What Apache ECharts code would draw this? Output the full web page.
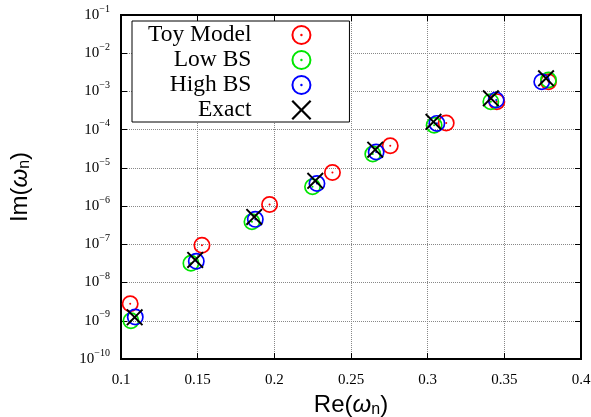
<!DOCTYPE html>
<html>
<head>
<meta charset="UTF-8">
<title>Im vs Re</title>
<script src="https://cdn.jsdelivr.net/npm/echarts@6/dist/echarts.min.js"></script>
<style>
  html, body { margin: 0; padding: 0; background: #fff; }
  #chart { width: 591px; height: 417px; }
</style>
</head>
<body>
<div id="chart"></div>
<script>
// values
var toyRe  = [0.106, 0.1528, 0.1969, 0.2379, 0.2756, 0.3121, 0.3451, 0.3788];
var toyIm  = [2.8e-9, 9.5e-8, 1.1e-6, 7.6e-6, 3.8e-5, 1.5e-4, 5.4e-4, 1.8e-3];
var lowRe  = [0.1065, 0.1456, 0.1854, 0.2249, 0.2642, 0.3042, 0.3412, 0.3788];
var lowIm  = [1.0e-9, 3.2e-8, 3.9e-7, 3.2e-6, 2.3e-5, 1.3e-4, 5.4e-4, 2.0e-3];
var highRe = [0.1093, 0.1491, 0.1876, 0.2278, 0.2664, 0.306, 0.3447, 0.3744];
var highIm = [1.26e-9, 3.6e-8, 4.5e-7, 3.9e-6, 2.6e-5, 1.46e-4, 6.0e-4, 1.8e-3];
var exRe   = [0.1089, 0.1484, 0.1869, 0.2267, 0.2658, 0.3038, 0.3412, 0.3772];
var exIm   = [1.23e-9, 3.9e-8, 5.2e-7, 4.6e-6, 3.0e-5, 1.6e-4, 6.6e-4, 2.2e-3];
var seriesNames = ['Toy Model', 'Low BS', 'High BS', 'Exact'];

function pairs(xs, ys) {
  var out = [];
  for (var i = 0; i < xs.length; i++) out.push([xs[i], ys[i]]);
  return out;
}

// ring with a dot in the middle, and a thick cross
var ringDot = 'path://M0,50 A50,50 0 1,1 100,50 A50,50 0 1,1 0,50 Z' +
  ' M10,50 A40,40 0 1,0 90,50 A40,40 0 1,0 10,50 Z' +
  ' M44,50 A6,6 0 1,1 56,50 A6,6 0 1,1 44,50 Z';
var cross = 'path://M0,8 L8,0 L50,42 L92,0 L100,8 L58,50 L100,92 L92,100 L50,58 L8,100 L0,92 L42,50 Z';

var serif = 'Liberation Serif';
var sans = 'Liberation Sans';
var titleRich = {
  w: { fontFamily: sans, fontSize: 24, fontStyle: 'italic', color: '#000' },
  sub: { fontFamily: sans, fontSize: 16, color: '#000', padding: [10, 0, 0, 0] }
};

var chart = echarts.init(document.getElementById('chart'));
var option = {
  animation: false,
  grid: {
    show: true, borderColor: '#000', borderWidth: 2,
    left: 121, top: 15, right: 10, bottom: 58,
    containLabel: false, outerBoundsMode: 'none'
  },
  legend: {
    orient: 'vertical',
    align: 'right',
    left: 132,
    top: 21,
    padding: [2, 38, 0, 16],
    itemWidth: 90,
    itemHeight: 20,
    itemGap: 1,
    backgroundColor: '#fff',
    borderColor: '#000',
    borderWidth: 1,
    data: seriesNames,
    textStyle: { fontFamily: serif, fontSize: 23.5, color: '#000' }
  },
  xAxis: [{
    type: 'value',
    min: 0.1, max: 0.4, interval: 0.05,
    name: 'Re({w|ω}{sub|n})',
    nameLocation: 'middle',
    nameGap: 31,
    nameTextStyle: { fontFamily: sans, fontSize: 24, color: '#000', rich: titleRich },
    axisLine: { show: true, onZero: false, lineStyle: { color: '#000', width: 2 } },
    axisTick: { show: true, inside: true, length: 6, lineStyle: { color: '#000' } },
    axisLabel: { fontFamily: serif, fontSize: 15, color: '#000', margin: 14 },
    splitLine: { show: true, lineStyle: { color: '#888', type: 'dotted', width: 1 } }
  }, {
    type: 'value', position: 'top',
    min: 0.1, max: 0.4, interval: 0.05,
    axisLine: { show: true, lineStyle: { color: '#000', width: 2 } },
    axisTick: { show: true, inside: true, length: 6, lineStyle: { color: '#000' } },
    axisLabel: { show: false },
    splitLine: { show: false }
  }],
  yAxis: [{
    type: 'log',
    logBase: 10,
    min: 1e-10, max: 1e-1, interval: 1,
    name: 'Im({w|ω}{sub|n})',
    nameLocation: 'middle',
    nameRotate: 90,
    nameGap: 88,
    nameTextStyle: { fontFamily: sans, fontSize: 24, color: '#000', rich: titleRich },
    axisLine: { show: true, onZero: false, lineStyle: { color: '#000', width: 2 } },
    axisTick: { show: true, inside: true, length: 6, lineStyle: { color: '#000' } },
    axisLabel: {
      fontFamily: serif, fontSize: 15, color: '#000', margin: 11,
      formatter: function (v) {
        var e = Math.round(Math.log(v) / Math.LN10);
        return '10{sup|' + (e < 0 ? '\u2212' + (-e) : e) + '}';
      },
      rich: { sup: { fontFamily: serif, fontSize: 10, color: '#000', padding: [0, 0, 12, 0] } }
    },
    splitLine: { show: true, lineStyle: { color: '#888', type: 'dotted', width: 1 } }
  }, {
    type: 'log', position: 'right',
    logBase: 10,
    min: 1e-10, max: 1e-1, interval: 1,
    axisLine: { show: true, lineStyle: { color: '#000', width: 2 } },
    axisTick: { show: true, inside: true, length: 6, lineStyle: { color: '#000' } },
    axisLabel: { show: false },
    splitLine: { show: false }
  }],
  series: [{
    name: 'Toy Model', type: 'scatter', symbol: ringDot, symbolSize: 17,
    itemStyle: { color: '#ff0000', opacity: 1 },
    data: pairs(toyRe, toyIm), z: 2
  }, {
    name: 'Low BS', type: 'scatter', symbol: ringDot, symbolSize: 17,
    itemStyle: { color: '#00e600', opacity: 1 },
    data: pairs(lowRe, lowIm), z: 3
  }, {
    name: 'High BS', type: 'scatter', symbol: ringDot, symbolSize: 17,
    itemStyle: { color: '#0000ff', opacity: 1 },
    data: pairs(highRe, highIm), z: 4
  }, {
    name: 'Exact', type: 'scatter', symbol: cross, symbolSize: 17,
    itemStyle: { color: '#000', opacity: 1 },
    data: pairs(exRe, exIm), z: 5
  }]
};
chart.setOption(option);
</script>
</body>
</html>
